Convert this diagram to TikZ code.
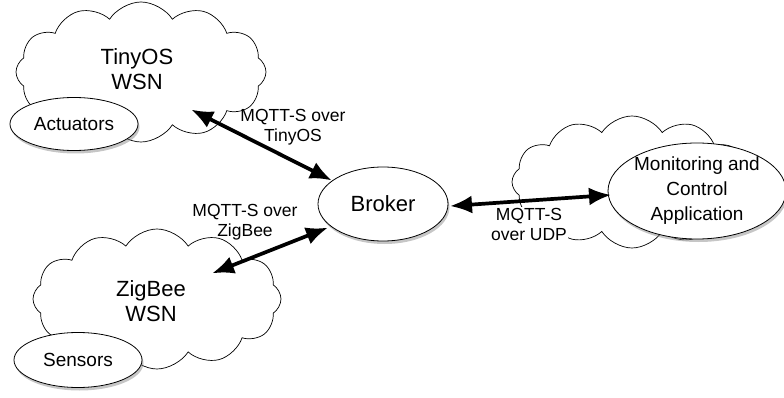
\documentclass[tikz,border=0pt]{standalone}
\usepackage{fontspec}
\setmainfont{Liberation Sans}
\usetikzlibrary{shapes.symbols,shapes.geometric,shadows,arrows.meta}
\begin{document}
\begin{tikzpicture}[x=1pt,y=1pt,
  cloudbox/.style={cloud, cloud puffs=12, cloud puff arc=115, draw, line width=0.7pt, fill=white, inner sep=0pt},
  ellbox/.style={ellipse, draw, line width=0.8pt, fill=white, inner sep=0pt,
     drop shadow={shadow xshift=1.5pt, shadow yshift=-3pt, opacity=0.45}},
  link/.style={line width=3.7pt, {Latex[length=22pt,width=18pt]}-{Latex[length=22pt,width=18pt]}, shorten <=-1pt, shorten >=-1pt},
  lbl/.style={font=\fontsize{17.5}{20}\selectfont, align=center},
  big/.style={font=\fontsize{22}{25}\selectfont, align=center},
  mid/.style={font=\fontsize{19}{25}\selectfont, align=center}
]
\useasboundingbox (0,0) rectangle (784,-398);
% clouds
\node[cloudbox, minimum width=250pt, minimum height=140pt] (tiny) at (141,-72) {};
\node[big] (tinyt) at (137,-69) {TinyOS\\WSN};
\node[cloudbox, minimum width=248pt, minimum height=140pt] (zig) at (157,-299) {};
\node[big] (zigt) at (151,-301) {ZigBee\\WSN};
\node[cloudbox, minimum width=240pt, minimum height=132pt] (app) at (632,-182) {};
% label with white ground over the cloud
\node[lbl, fill=white, inner sep=1pt] (l3) at (529,-224) {MQTT-S\\over UDP};
% ellipses
\node[ellbox, mid, minimum width=128pt, minimum height=53pt] (act) at (74,-124) {Actuators};
\node[ellbox, mid, minimum width=128pt, minimum height=55pt] (sen) at (78,-360) {Sensors};
\node[ellbox, big, minimum width=130pt, minimum height=74pt] (broker) at (383,-204) {Broker};
\node[ellbox, mid, minimum width=178pt, minimum height=96pt] (mon) at (697,-191) {Monitoring and\\Control\\Application};
% connectors
\coordinate (tA) at (192,-110);
\coordinate (tB) at (331,-180);
\coordinate (zA) at (213,-273);
\coordinate (zB) at (327,-228);
\coordinate (uA) at (451,-206);
\coordinate (uB) at (610,-195);
\draw[link] (tA) -- (tB);
\draw[link] (zA) -- (zB);
\draw[link] (uA) -- (uB);
% labels
\node[lbl] (l1) at (293,-127) {MQTT-S over\\TinyOS};
\node[lbl] (l2) at (245,-222) {MQTT-S over\\ZigBee};
\end{tikzpicture}
\end{document}
